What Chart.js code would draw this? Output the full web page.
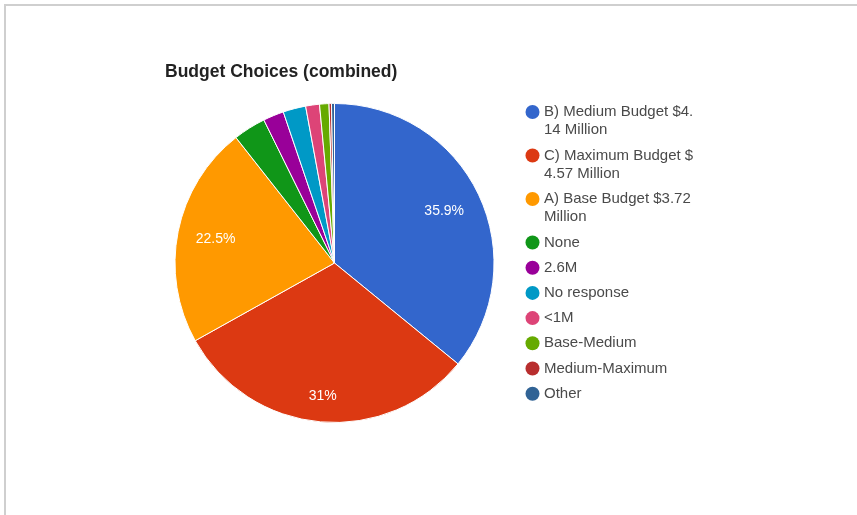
<!DOCTYPE html>
<html><head><meta charset="utf-8">
<script src="https://cdn.jsdelivr.net/npm/chart.js@4"></script>
<style>html,body{margin:0;padding:0;background:#fff;}#wrap{position:relative;width:857px;height:515px;}</style>
</head><body><div id="wrap"><canvas id="c" width="857" height="515"></canvas></div>
<script>
const chartTitle = 'Budget Choices (combined)';
const categories = [
  ["B) Medium Budget $4.", "14 Million"],
  ["C) Maximum Budget $", "4.57 Million"],
  ["A) Base Budget $3.72", "Million"],
  ["None"],
  ["2.6M"],
  ["No response"],
  ["<1M"],
  ["Base-Medium"],
  ["Medium-Maximum"],
  ["Other"]
];
const values = [35.9, 31.0, 22.5, 3.3, 2.1, 2.3, 1.4, 0.95, 0.25, 0.3];
const colors = ['#3366cc','#dc3912','#ff9900','#109618','#990099','#0099c6','#dd4477','#66aa00','#b82e2e','#316395'];
const FONT = '"Liberation Sans", Arial, sans-serif';

const framePlugin = {
  id: 'frame',
  beforeDraw(chart) {
    const ctx = chart.ctx;
    ctx.save();
    ctx.fillStyle = '#fff';
    ctx.fillRect(0, 0, chart.width, chart.height);
    ctx.strokeStyle = '#cfcfcf';
    ctx.lineWidth = 2;
    ctx.beginPath();
    ctx.moveTo(5, 515); ctx.lineTo(5, 5); ctx.lineTo(857, 5);
    ctx.stroke();
    ctx.restore();
  }
};

const decorPlugin = {
  id: 'decor',
  afterDatasetsDraw(chart) {
    const ctx = chart.ctx;
    const meta = chart.getDatasetMeta(0);
    const total = values.reduce((a, b) => a + b, 0);
    ctx.save();
    // slice labels
    ctx.font = '14px ' + FONT;
    ctx.fillStyle = '#ffffff';
    ctx.textAlign = 'center';
    ctx.textBaseline = 'middle';
    meta.data.forEach((arc, i) => {
      if (values[i] / total < 0.05) return;
      const p = arc.getProps(['x', 'y', 'startAngle', 'endAngle', 'outerRadius'], true);
      const mid = (p.startAngle + p.endAngle) / 2;
      const ux = Math.cos(mid), uy = Math.sin(mid);
      const txt = values[i] + '%';
      const w = ctx.measureText(txt).width, h = 12;
      const cx = Math.sign(ux) * w / 2, cy = Math.sign(uy) * h / 2;
      const R = p.outerRadius * 0.89;
      const uc = ux * cx + uy * cy;
      const d = -uc + Math.sqrt(uc * uc - (cx * cx + cy * cy) + R * R);
      ctx.fillText(txt, p.x + ux * d, p.y + uy * d);
    });
    // title
    ctx.font = 'bold 17.5px ' + FONT;
    ctx.fillStyle = '#222';
    ctx.textAlign = 'left';
    ctx.textBaseline = 'alphabetic';
    ctx.fillText(chartTitle, 165, 77);
    // legend
    ctx.font = '15px ' + FONT;
    ctx.textBaseline = 'middle';
    let y = 112;
    categories.forEach((lines, i) => {
      ctx.fillStyle = colors[i];
      ctx.beginPath();
      ctx.arc(532.5, y, 7, 0, Math.PI * 2);
      ctx.fill();
      ctx.fillStyle = '#4a4a4a';
      lines.forEach((ln, k) => {
        ctx.fillText(ln, 544, y + k * 18.3);
      });
      y += (lines.length - 1) * 18.3 + 25.2;
    });
    ctx.restore();
  }
};

new Chart(document.getElementById('c'), {
  type: 'pie',
  data: {
    labels: categories,
    datasets: [{
      data: values,
      backgroundColor: colors,
      borderColor: '#ffffff',
      borderWidth: 1
    }]
  },
  options: {
    responsive: false,
    animation: false,
    layout: { padding: { left: 174.5, right: 362.5, top: 103, bottom: 92 } },
    plugins: { legend: { display: false }, tooltip: { enabled: false }, title: { display: false } }
  },
  plugins: [framePlugin, decorPlugin]
});
</script>
</body></html>
